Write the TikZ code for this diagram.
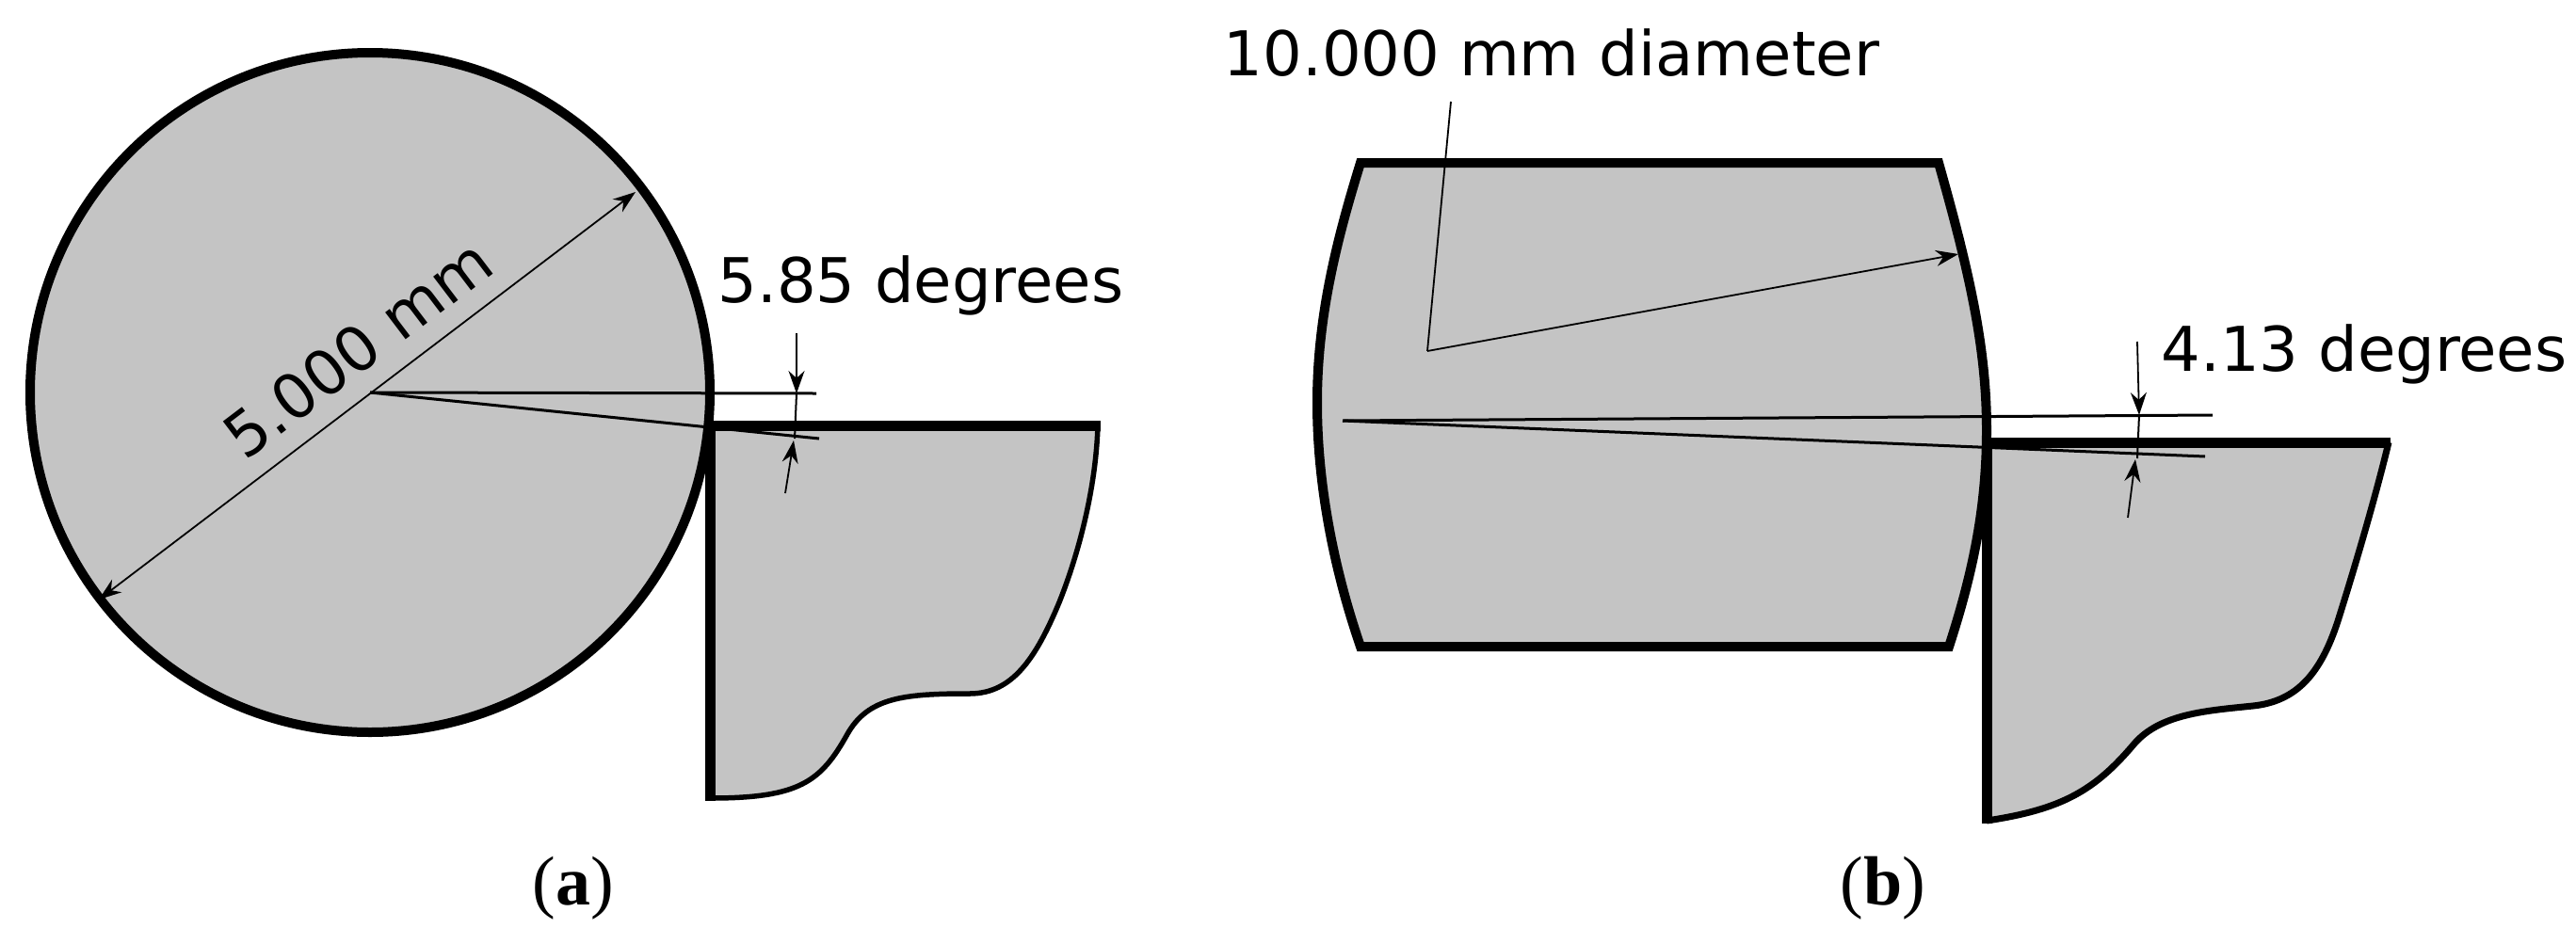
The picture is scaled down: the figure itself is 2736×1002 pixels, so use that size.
\documentclass[tikz,border=0pt]{standalone}
\usepackage{fontspec}
\setsansfont{DejaVu Sans}
\setmainfont{Liberation Serif}
\usetikzlibrary{arrows.meta}
\definecolor{partgray}{HTML}{C4C4C4}
\tikzset{
    part/.style={fill=partgray,draw=none},
    outline/.style={line width=10pt,line join=miter},
    refline/.style={line width=3pt},
    dimline/.style={line width=1.8pt,-{Stealth[length=24pt,width=17pt]}},
    dimboth/.style={line width=1.8pt,{Stealth[length=24pt,width=17pt]}-{Stealth[length=24pt,width=17pt]}},
    dimtext/.style={font=\fontsize{65.6}{70}\selectfont\sffamily,inner sep=0pt},
    captext/.style={font=\fontsize{74}{80}\selectfont,inner sep=0pt}
}
\begin{document}
\begin{tikzpicture}[x=1pt,y=-1pt]
\useasboundingbox (0,0) rectangle (2736,1002);
% (a)
\coordinate (centerA) at (393,417);
\draw[part,outline,draw=black] (centerA) circle (361pt);
\path[part] (755,848) .. controls (850,848) and (872,830) .. (900,780)
    .. controls (922,741) and (960,737) .. (1030,737)
    .. controls (1075,737) and (1100,700) .. (1125,640)
    .. controls (1145,590) and (1164,520) .. (1166,452) -- (755,452) -- cycle;
\draw[line width=5.5pt] (755,848) .. controls (850,848) and (872,830) .. (900,780)
    .. controls (922,741) and (960,737) .. (1030,737)
    .. controls (1075,737) and (1100,700) .. (1125,640)
    .. controls (1145,590) and (1164,520) .. (1166,452);
\draw[outline,line width=11pt] (1169,452) -- (754,452) -- (754,851);
\coordinate (lineAtop) at (867,418);
\coordinate (lineAbot) at (870,466);
\draw[refline] (centerA) -- (lineAtop);
\draw[refline] (centerA) -- (lineAbot);
\draw[dimline] (846,354) -- (846,418);
\draw[line width=2pt] (846,418) -- (844,466);
\draw[dimline] (834,524) -- (843,468);
\draw[dimboth] (105,637) -- (675,204);
\node[dimtext,rotate=37.2] (diaA) at (380,370) {5.000 mm};
\node[dimtext] (angleA) at (978,303) {5.85 degrees};
\node[captext] (capA) at (609,944) {(\textbf{a})};
% (b)
\draw[part,outline,draw=black] (1445,173) -- (2059,173) .. controls (2092,290) and (2110,370) .. (2110,457) .. controls (2110,540) and (2095,610) .. (2070,687) -- (1445,687) .. controls (1415,600) and (1399,510) .. (1399,428) .. controls (1399,340) and (1418,260) .. (1445,173) -- cycle;
\path[part] (2110,872) .. controls (2190,860) and (2225,840) .. (2267,790)
    .. controls (2295,758) and (2345,755) .. (2393,750)
    .. controls (2440,745) and (2465,715) .. (2483,660)
    .. controls (2505,590) and (2525,520) .. (2537,470) -- (2110,470) -- cycle;
\draw[line width=7pt] (2110,872) .. controls (2190,860) and (2225,840) .. (2267,790)
    .. controls (2295,758) and (2345,755) .. (2393,750)
    .. controls (2440,745) and (2465,715) .. (2483,660)
    .. controls (2505,590) and (2525,520) .. (2537,470);
\draw[outline,line width=11pt] (2539,470) -- (2110,470) -- (2110,875);
\coordinate (centerB) at (1426,447);
\coordinate (lineBtop) at (2350,441);
\coordinate (lineBbot) at (2342,485);
\draw[refline] (centerB) -- (lineBtop);
\draw[refline] (centerB) -- (lineBbot);
\draw[dimline] (2270,363) -- (2272,441);
\draw[line width=2pt] (2272,441) -- (2270,487);
\draw[dimline] (2260,550) -- (2268,488);
\coordinate (leaderB) at (1516,373);
\draw[line width=1.8pt] (1541,108) -- (leaderB);
\draw[dimline] (leaderB) -- (2080,270);
\node[dimtext] (diaB) at (1648,56) {10.000 mm diameter};
\node[dimtext] (angleB) at (2511,376) {4.13 degrees};
\node[captext] (capB) at (2000,944) {(\textbf{b})};
\end{tikzpicture}
\end{document}
